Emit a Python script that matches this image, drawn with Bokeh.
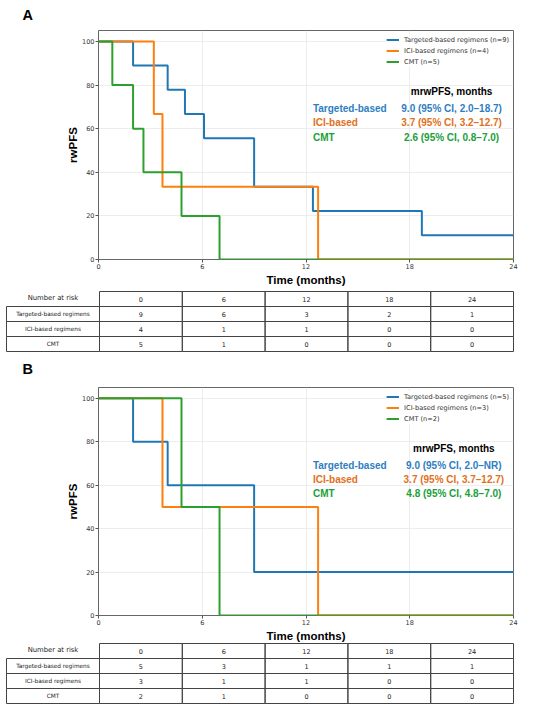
from bokeh.plotting import figure
from bokeh.models import Range1d, Legend, LegendItem, Label, FixedTicker, Title
from bokeh.layouts import column
from bokeh.embed import file_html
from bokeh.resources import INLINE

# ---------------- data ----------------
TICKS_X = [0, 6, 12, 18, 24]
TICKS_Y = [0, 20, 40, 60, 80, 100]
GROUPS = ["Targeted-based regimens", "ICI-based regimens", "CMT"]

A_tgt_t = [0, 2.0, 4.0, 5.0, 6.1, 9.0, 12.4, 18.7, 24]
A_tgt_s = [100, 88.9, 77.8, 66.7, 55.6, 33.3, 22.2, 11.1, 11.1]
A_ici_t = [0, 3.2, 3.7, 12.7, 24]
A_ici_s = [100, 66.7, 33.3, 0, 0]
A_cmt_t = [0, 0.8, 2.0, 2.6, 4.8, 7.0, 24]
A_cmt_s = [100, 80, 60, 40, 20, 0, 0]
A_n = [9, 4, 5]
A_risk_tgt = [9, 6, 3, 2, 1]
A_risk_ici = [4, 1, 1, 0, 0]
A_risk_cmt = [5, 1, 0, 0, 0]
SHORT_NAMES = ["Targeted-based", "ICI-based", "CMT"]
A_medians = ["9.0 (95% CI, 2.0\u201318.7)", "3.7 (95% CI, 3.2\u201312.7)", "2.6 (95% CI, 0.8\u20137.0)"]

B_tgt_t = [0, 2.0, 4.0, 9.0, 24]
B_tgt_s = [100, 80, 60, 20, 20]
B_ici_t = [0, 3.7, 12.7, 24]
B_ici_s = [100, 50, 0, 0]
B_cmt_t = [0, 4.8, 7.0, 24]
B_cmt_s = [100, 50, 0, 0]
B_n = [5, 3, 2]
B_risk_tgt = [5, 3, 1, 1, 1]
B_risk_ici = [3, 1, 1, 0, 0]
B_risk_cmt = [2, 1, 0, 0, 0]
B_medians = ["9.0 (95% CI, 2.0\u2013NR)", "3.7 (95% CI, 3.7\u201312.7)", "4.8 (95% CI, 4.8\u20137.0)"]

LINE_COLORS = ["#1f77b4", "#ff7f0e", "#2ca02c"]
TEXT_COLORS = ["#2e7ec0", "#e2701c", "#20a03a"]

W = 550
BOLD = "Liberation Sans"
SMALL = "DejaVu Sans"

# table geometry (pixels)
CW = 414 / 5.0      # width of one time column
RH = 15.0           # row height
LEFT_PAD = 6        # space left of table
LABEL_W = 93        # width of the row-label column
RIGHT_PAD = 37


def blank(height, x_range, y_range):
    p = figure(width=W, height=height, output_backend="svg", toolbar_location=None,
               x_range=x_range, y_range=y_range,
               min_border_left=0, min_border_right=0, min_border_top=0, min_border_bottom=0,
               x_axis_location=None, y_axis_location=None, frame_align=False)
    p.grid.visible = False
    p.outline_line_color = None
    return p


def header(letter, height, cy):
    p = blank(height, Range1d(0, W), Range1d(height, 0))
    p.text(x=[22], y=[cy], text=[letter], text_align="left", text_baseline="middle",
           text_font={"value": BOLD}, text_font_size="14.5px", text_font_style="bold",
           text_color="black")
    return p


def axis_title(text, offset):
    return Title(text=text, align="center", offset=offset, standoff=1,
                 text_font=BOLD, text_font_size="11.5px", text_font_style="bold",
                 text_color="black")


def km_fig(curves, ns, medians, top, bottom, height, val_x):
    p = figure(width=W, height=height, output_backend="svg", toolbar_location=None,
               x_range=Range1d(0, 24), y_range=Range1d(0, 105),
               min_border_left=98, min_border_right=37,
               min_border_top=top, min_border_bottom=bottom, frame_align=False)
    p.outline_line_color = "#666666"
    p.outline_line_width = 1

    for ax in (p.xaxis[0], p.yaxis[0]):
        ax.axis_line_color = None
        ax.major_tick_line_color = "#555555"
        ax.major_tick_out = 3
        ax.major_tick_in = 0
        ax.minor_tick_line_color = None
        ax.major_label_text_font = SMALL
        ax.major_label_text_font_size = "6.5px"
        ax.major_label_text_color = "#333333"
        ax.major_label_standoff = 1
    p.xaxis.ticker = FixedTicker(ticks=TICKS_X)
    p.yaxis.ticker = FixedTicker(ticks=TICKS_Y)
    p.add_layout(axis_title("Time (months)", -8), "below")
    p.add_layout(axis_title("rwPFS", 8), "left")
    p.grid.grid_line_color = "#e8e8e8"
    p.grid.grid_line_width = 0.8

    items = []
    for (t, s), col, g, n in zip(curves, LINE_COLORS, GROUPS, ns):
        r = p.step(t, s, mode="after", line_color=col, line_width=2)
        items.append(LegendItem(label=f"{g} (n={n})", renderers=[r]))
    lg = Legend(items=items, location="top_right",
                label_text_font=SMALL, label_text_font_size="6.6px",
                label_text_color="#333333",
                glyph_width=13, glyph_height=11, label_height=11,
                label_standoff=5, spacing=0, padding=2, margin=4,
                border_line_color=None, background_fill_alpha=0.8)
    p.add_layout(lg)

    p.add_layout(Label(x=val_x, y=77.1, text="mrwPFS, months", text_align="center",
                       text_baseline="middle", text_font=BOLD, text_font_size="10px",
                       text_font_style="bold", text_color="black"))
    ys = [69.3, 62.8, 56.0]
    for name, med, col, y in zip(SHORT_NAMES, medians, TEXT_COLORS, ys):
        p.add_layout(Label(x=12.4, y=y, text=name, text_align="left", text_baseline="middle",
                           text_font=BOLD, text_font_size="10px", text_font_style="bold",
                           text_color=col))
        p.add_layout(Label(x=val_x, y=y, text=med, text_align="center", text_baseline="middle",
                           text_font=BOLD, text_font_size="10px", text_font_style="bold",
                           text_color=col))
    return p


def risk_table(rows, height, pad_top, letter=None, letter_cy=None):
    # x: data column j spans [j, j+1]; label column spans [-LABEL_W/CW, 0]
    x_start = -(LABEL_W + LEFT_PAD) / CW
    x_end = len(TICKS_X) + RIGHT_PAD / CW
    y_top = -pad_top / RH
    y_bot = y_top + height / RH
    p = blank(height, Range1d(x_start, x_end), Range1d(y_bot, y_top))
    lc = "#444444"
    lw = 1
    ncols = len(TICKS_X)
    x0 = -LABEL_W / CW
    txt = "#222222"
    # header row: only the time cells are boxed
    p.quad(left=list(range(ncols)), right=[i + 1 for i in range(ncols)],
           top=[0] * ncols, bottom=[1] * ncols,
           fill_color=None, line_color=lc, line_width=lw)
    nrows = len(rows)
    p.quad(left=[x0] * nrows, right=[0] * nrows,
           top=[i + 1 for i in range(nrows)], bottom=[i + 2 for i in range(nrows)],
           fill_color=None, line_color=lc, line_width=lw)
    for i in range(nrows):
        p.quad(left=list(range(ncols)), right=[j + 1 for j in range(ncols)],
               top=[i + 1] * ncols, bottom=[i + 2] * ncols,
               fill_color=None, line_color=lc, line_width=lw)
    p.text(x=[x0 / 2], y=[0.45], text=["Number at risk"], text_align="center",
           text_baseline="middle", text_font={"value": SMALL}, text_font_size="6.8px",
           text_color=txt)
    p.text(x=[i + 0.5 for i in range(ncols)], y=[0.5] * ncols, text=[str(t) for t in TICKS_X],
           text_align="center", text_baseline="middle", text_font={"value": SMALL},
           text_font_size="6.5px", text_color=txt)
    for i, (g, vals) in enumerate(zip(GROUPS, rows)):
        p.text(x=[x0 / 2], y=[i + 1.5], text=[g], text_align="center",
               text_baseline="middle", text_font={"value": SMALL}, text_font_size="5.8px",
               text_color=txt)
        p.text(x=[j + 0.5 for j in range(ncols)], y=[i + 1.5] * ncols,
               text=[str(v) for v in vals], text_align="center", text_baseline="middle",
               text_font={"value": SMALL}, text_font_size="6.5px", text_color=txt)
    if letter:
        p.text(x=[x_start + 22 / CW], y=[y_top + letter_cy / RH], text=[letter],
               text_align="left", text_baseline="middle", text_font={"value": BOLD},
               text_font_size="14.5px", text_font_style="bold", text_color="black")
    return p


hA = header("A", 22, 14)
pA = km_fig([(A_tgt_t, A_tgt_s), (A_ici_t, A_ici_s), (A_cmt_t, A_cmt_s)],
            A_n, A_medians, top=8, bottom=31, height=268, val_x=20.42)
tA = risk_table([A_risk_tgt, A_risk_ici, A_risk_cmt], height=90, pad_top=1,
                letter="B", letter_cy=78.5)
pB = km_fig([(B_tgt_t, B_tgt_s), (B_ici_t, B_ici_s), (B_cmt_t, B_cmt_s)],
            B_n, B_medians, top=7, bottom=27, height=262, val_x=20.55)
tB = risk_table([B_risk_tgt, B_risk_ici, B_risk_cmt], height=71, pad_top=1)

layout = column(hA, pA, tA, pB, tB, spacing=0)
open("out.html", "w").write(file_html(layout, INLINE))
